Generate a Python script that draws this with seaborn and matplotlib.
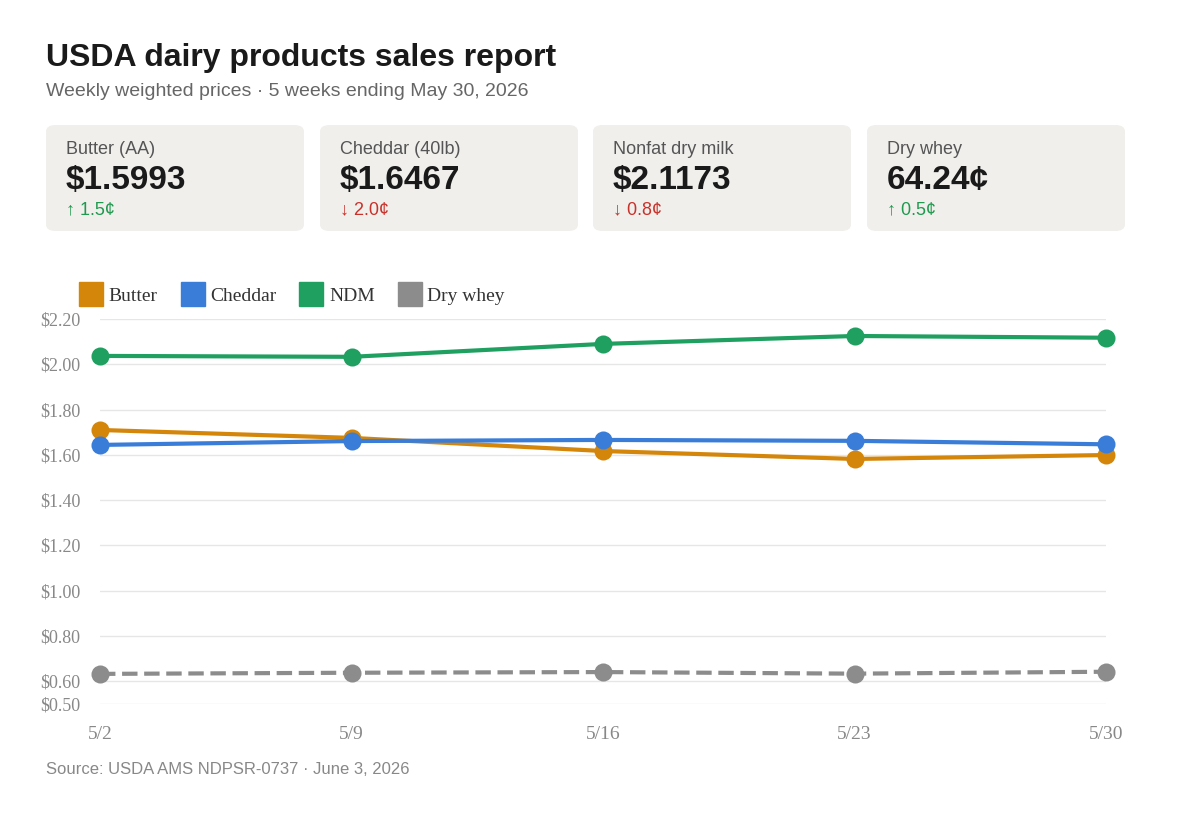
import matplotlib
matplotlib.use("Agg")
import matplotlib.pyplot as plt
import numpy as np
import pandas as pd
import seaborn as sns
from matplotlib.patches import FancyBboxPatch
from matplotlib.lines import Line2D

weeks = ["5/2", "5/9", "5/16", "5/23", "5/30"]
butter = [1.71, 1.675, 1.617, 1.582, 1.5993]
cheddar = [1.644, 1.661, 1.666, 1.662, 1.6467]
ndm = [2.037, 2.033, 2.09, 2.125, 2.1173]
dry_whey = [0.633, 0.638, 0.641, 0.634, 0.6424]

series_names = ["Butter", "Cheddar", "NDM", "Dry whey"]
colors = ["#d4860b", "#3a7dd8", "#1fa060", "#8c8c8c"]

card_labels = ["Butter (AA)", "Cheddar (40lb)", "Nonfat dry milk", "Dry whey"]
card_values = ["$1.5993", "$1.6467", "$2.1173", "64.24¢"]
card_changes = ["↑ 1.5¢", "↓ 2.0¢", "↓ 0.8¢", "↑ 0.5¢"]
card_up = [True, False, False, True]

yticks = [0.5, 0.6, 0.8, 1.0, 1.2, 1.4, 1.6, 1.8, 2.0, 2.2]

sns.set_theme(style="white")
plt.rcParams["font.family"] = ["Liberation Sans", "DejaVu Sans"]

df = pd.DataFrame({"week": weeks * 4,
                   "x": list(range(5)) * 4,
                   "price": butter + cheddar + ndm + dry_whey,
                   "series": sum([[n] * 5 for n in series_names], [])})

W, H = 1200, 823
fig = plt.figure(figsize=(12, 8.23), dpi=100)
fig.patch.set_facecolor("white")

fig.text(46 / W, 1 - 58 / H, "USDA dairy products sales report", fontsize=23,
         fontweight="bold", color="#1a1a1a", va="center")
fig.text(46 / W, 1 - 91 / H, "Weekly weighted prices · 5 weeks ending May 30, 2026",
         fontsize=14, color="#666666", va="center")

card_x = [46, 320, 593, 867]
for i, cx in enumerate(card_x):
    box = FancyBboxPatch((cx / W, 1 - 231 / H), 258 / W, 106 / H,
                         boxstyle="round,pad=0,rounding_size=0.008",
                         transform=fig.transFigure, facecolor="#f0efec",
                         edgecolor="none")
    fig.patches.append(box)
    fig.text((cx + 20) / W, 1 - 149 / H, card_labels[i], fontsize=13,
             color="#555555", va="center")
    fig.text((cx + 20) / W, 1 - 180 / H, card_values[i], fontsize=24,
             fontweight="bold", color="#1a1a1a", va="center")
    fig.text((cx + 20) / W, 1 - 210 / H, card_changes[i], fontsize=13,
             color="#1f9a4f" if card_up[i] else "#c8322b", va="center")

ax = fig.add_axes([100 / W, 1 - 704 / H, 1006 / W, 385 / H])
for name, c in zip(series_names, colors):
    d = df[df["series"] == name]
    sns.lineplot(data=d, x="x", y="price", ax=ax, color=c, lw=3,
                 linestyle="--" if name == "Dry whey" else "-",
                 marker="o", markersize=13, markeredgewidth=0, legend=False)
    for l in ax.lines[-1:]:
        l.set_clip_on(False)

ax.set_xlim(0, 4)
ax.set_ylim(0.5, 2.2)
ax.set_yticks(yticks)
ax.set_yticklabels([f"${v:.2f}" for v in yticks], family="Liberation Serif",
                   fontsize=13, color="#888888")
ax.set_xticks(range(5))
ax.set_xticklabels(weeks, family="Liberation Serif", fontsize=14, color="#888888")
ax.tick_params(axis="y", length=0, pad=14)
ax.tick_params(axis="x", length=0, pad=16)
ax.grid(axis="y", color="#e6e6e6", lw=1)
for s in ax.spines.values():
    s.set_visible(False)
ax.set_xlabel("")
ax.set_ylabel("")

handles = [Line2D([], [], marker="s", color=c, lw=0, markersize=17) for c in colors]
leg = fig.legend(handles, series_names, loc="center left",
                 bbox_to_anchor=(62 / W, 1 - 296 / H), ncol=4, frameon=False,
                 prop={"family": "Liberation Serif", "size": 14},
                 handletextpad=0.3, columnspacing=1.2, handlelength=1.2)
for t in leg.get_texts():
    t.set_color("#333333")

fig.text(46 / W, 1 - 770 / H, "Source: USDA AMS NDPSR-0737 · June 3, 2026",
         fontsize=12, color="#888888", va="center")

fig.savefig("out.png", dpi=100)
